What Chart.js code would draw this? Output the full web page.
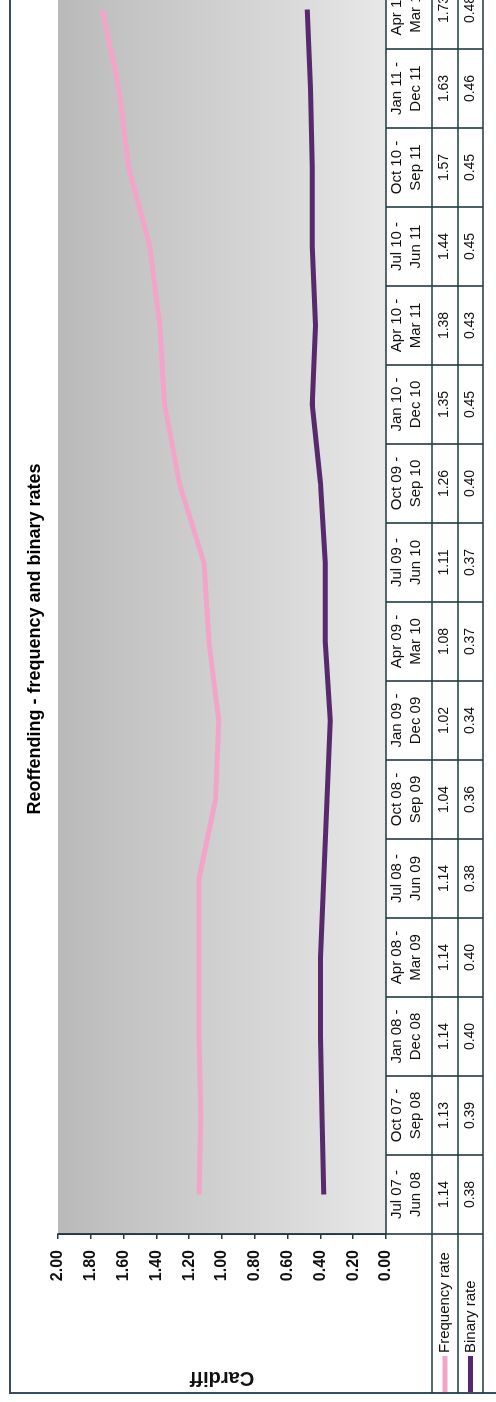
<!DOCTYPE html>
<html>
<head>
<meta charset="utf-8">
<script src="https://cdn.jsdelivr.net/npm/chart.js@4"></script>
<style>
  html, body { margin: 0; padding: 0; background: #fff; overflow: hidden; width: 496px; height: 1402px; }
  /* the sheet is printed landscape, so the whole chart is turned a quarter to the left */
  #sheet { position: absolute; left: 0; top: 0; width: 1526px; height: 510px;
           transform-origin: 0 0; transform: translate(0, 1402px) rotate(-90deg); }
  canvas { display: block; }
</style>
</head>
<body>
<div id="sheet"><canvas id="chart" width="1526" height="510" style="width:1526px;height:510px"></canvas></div>
<script>
// Rolling twelve-month periods
const categories = [
  'Jul 07 - Jun 08', 'Oct 07 - Sep 08', 'Jan 08 - Dec 08', 'Apr 08 - Mar 09',
  'Jul 08 - Jun 09', 'Oct 08 - Sep 09', 'Jan 09 - Dec 09', 'Apr 09 - Mar 10',
  'Jul 09 - Jun 10', 'Oct 09 - Sep 10', 'Jan 10 - Dec 10', 'Apr 10 - Mar 11',
  'Jul 10 - Jun 11', 'Oct 10 - Sep 11', 'Jan 11 - Dec 11', 'Apr 11 - Mar 12'
];
const frequencyRate = [1.14, 1.13, 1.14, 1.14, 1.14, 1.04, 1.02, 1.08, 1.11, 1.26, 1.35, 1.38, 1.44, 1.57, 1.63, 1.73];
const binaryRate    = [0.38, 0.39, 0.40, 0.40, 0.38, 0.36, 0.34, 0.37, 0.37, 0.40, 0.45, 0.43, 0.45, 0.45, 0.46, 0.48];
const seriesNames   = ['Frequency rate', 'Binary rate'];
const seriesColors  = ['#f3a5c9', '#582a6d'];
const yMin = 0, yMax = 2, yStep = 0.2;

const chartTitle = 'Reoffending - frequency and binary rates';
const axisTitle = 'Cardiff';

const FONT = "'Liberation Sans', Arial, sans-serif";
const LINE = '#203a42';

// layout of the page furniture (canvas pixels)
const W = 1526, H = 510;
const PLOT_TOP = 58, AXIS_W = 168, PLOT_RIGHT_GAP = 94, PLOT_BOTTOM = 386;
const HEADER_H = 46, ROW_H = [26, 25];
const FRAME_L = 9, FRAME_T = 10;

Chart.defaults.font.family = FONT;
Chart.defaults.color = '#000';

const plotBackground = {
  id: 'plotBackground',
  beforeDraw(chart) {
    const { ctx, chartArea: a } = chart;
    ctx.save();
    ctx.fillStyle = '#fff';
    ctx.fillRect(0, 0, chart.width, chart.height);
    const g = ctx.createLinearGradient(0, a.top, 0, a.bottom);
    g.addColorStop(0, '#b9b9b9');
    g.addColorStop(0.15, '#c1c1c1');
    g.addColorStop(0.4, '#cccccc');
    g.addColorStop(0.7, '#d9d9d9');
    g.addColorStop(1, '#e8e8e8');
    ctx.fillStyle = g;
    ctx.fillRect(a.left, a.top, a.right - a.left, a.bottom - a.top);
    ctx.restore();
  }
};

// title, outer frame and the data table under the plot
const frameAndTable = {
  id: 'frameAndTable',
  afterDraw(chart) {
    const { ctx, chartArea: a } = chart;
    const x = chart.scales.x;
    const n = categories.length;
    const colW = (x.right - x.left) / n;
    const rowTop = [a.bottom, a.bottom + HEADER_H, a.bottom + HEADER_H + ROW_H[0]];
    const tableBottom = rowTop[2] + ROW_H[1];

    ctx.save();
    // outer frame
    ctx.strokeStyle = '#34505e';
    ctx.lineWidth = 2;
    ctx.strokeRect(FRAME_L, FRAME_T, W - 2 * FRAME_L, H - 2 * FRAME_T);

    // chart title
    ctx.fillStyle = '#000';
    ctx.font = 'bold 18px ' + FONT;
    ctx.textAlign = 'center';
    ctx.textBaseline = 'middle';
    ctx.fillText(chartTitle, chart.width / 2, 35);

    // grid of the table
    ctx.strokeStyle = LINE;
    ctx.lineWidth = 1.6;
    ctx.beginPath();
    ctx.moveTo(a.left, a.top);
    ctx.lineTo(a.left, tableBottom);
    for (let i = 1; i <= n; i++) {
      const cx = x.left + i * colW;
      ctx.moveTo(cx, a.bottom);
      ctx.lineTo(cx, tableBottom);
    }
    ctx.moveTo(a.left, a.bottom);
    ctx.lineTo(x.right, a.bottom);
    [rowTop[1], rowTop[2], tableBottom].forEach(y => {
      ctx.moveTo(FRAME_L, y);
      ctx.lineTo(x.right, y);
    });
    ctx.stroke();

    // period headers
    ctx.fillStyle = '#111';
    ctx.font = '15px ' + FONT;
    ctx.textAlign = 'center';
    ctx.textBaseline = 'middle';
    const hMid = a.bottom + HEADER_H / 2 - 3;
    categories.forEach((c, i) => {
      const [from, to] = c.split(' - ');
      const cx = x.getPixelForValue(i);
      ctx.fillText(from + ' -', cx, hMid - 9.5);
      ctx.fillText(to, cx, hMid + 9.5);
    });

    // values
    ctx.font = '14px ' + FONT;
    [frequencyRate, binaryRate].forEach((vals, r) => {
      const cy = rowTop[r + 1] + ROW_H[r] / 2 - 0.5;
      vals.forEach((v, i) => ctx.fillText(v.toFixed(2), x.getPixelForValue(i), cy));
    });

    // row keys
    ctx.font = '15px ' + FONT;
    ctx.textAlign = 'left';
    seriesNames.forEach((name, r) => {
      const cy = rowTop[r + 1] + ROW_H[r] / 2;
      ctx.strokeStyle = seriesColors[r];
      ctx.lineWidth = 5;
      ctx.beginPath();
      ctx.moveTo(FRAME_L + 1, cy);
      ctx.lineTo(46, cy);
      ctx.stroke();
      ctx.fillStyle = '#111';
      ctx.fillText(name, 49, cy);
    });
    ctx.restore();
  }
};

new Chart(document.getElementById('chart'), {
  type: 'line',
  data: {
    labels: categories,
    datasets: [
      { label: seriesNames[0], data: frequencyRate, borderColor: seriesColors[0], backgroundColor: seriesColors[0] },
      { label: seriesNames[1], data: binaryRate, borderColor: seriesColors[1], backgroundColor: seriesColors[1] }
    ]
  },
  options: {
    responsive: false,
    animation: false,
    devicePixelRatio: 1,
    layout: { padding: { top: PLOT_TOP, left: 0, right: PLOT_RIGHT_GAP, bottom: 0 } },
    elements: {
      line: { borderWidth: 5, tension: 0, borderCapStyle: 'butt', borderJoinStyle: 'round' },
      point: { radius: 0, hoverRadius: 0 }
    },
    plugins: { legend: { display: false }, title: { display: false }, tooltip: { enabled: false } },
    scales: {
      x: {
        type: 'category',
        offset: true,
        grid: { display: false },
        border: { display: false },
        ticks: { display: false },
        afterFit(s) { s.height = H - PLOT_BOTTOM; }
      },
      y: {
        min: yMin, max: yMax,
        grid: { display: true, drawOnChartArea: false, drawTicks: true, tickLength: 5, color: LINE, lineWidth: 1.5 },
        border: { display: true, color: LINE, width: 1.6 },
        ticks: {
          stepSize: yStep,
          padding: 11,
          color: '#111',
          font: { size: 16, weight: 'bold' },
          callback: v => Number(v).toFixed(2)
        },
        title: { display: true, text: axisTitle, color: '#111', font: { size: 20, weight: 'bold' }, padding: { top: 12.5, bottom: 0 } },
        afterFit(s) { s.width = AXIS_W; }
      }
    }
  },
  plugins: [plotBackground, frameAndTable]
});
</script>
</body>
</html>
